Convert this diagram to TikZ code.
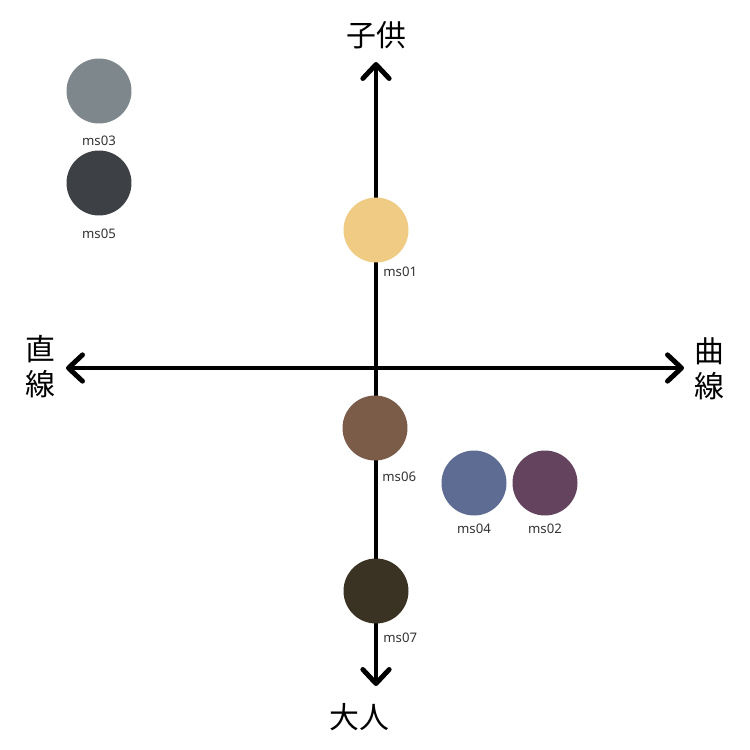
\documentclass[tikz,border=0pt]{standalone}
\usepackage{fontspec}
\setmainfont{Noto Sans}
\newfontfamily\jpfont{Noto Sans CJK JP}
\usetikzlibrary{arrows.meta,positioning}

\definecolor{msA}{HTML}{EFCB84}
\definecolor{msB}{HTML}{64435E}
\definecolor{msC}{HTML}{7E878B}
\definecolor{msD}{HTML}{5E6C94}
\definecolor{msE}{HTML}{3D4045}
\definecolor{msF}{HTML}{7B5C48}
\definecolor{msG}{HTML}{3A3222}

\begin{document}
\begin{tikzpicture}[
                x=0.02cm,y=-0.02cm,
                every node/.append style={inner sep=0pt},
                swatch/.style={circle,minimum size=1.3cm},
                tag/.style={font=\fontsize{7.5}{9}\selectfont,text=black!80},
                axis/.style={line width=2.8pt,{Straight Barb[round,length=8pt,width=15pt]}-{Straight Barb[round,length=8pt,width=15pt]}},
                pole/.style={font=\jpfont\fontsize{17}{20}\selectfont,align=center}
            ]
                \useasboundingbox (0,0) rectangle (750,750);
                \coordinate (top)    at (376,62);
                \coordinate (bottom) at (376,686);
                \coordinate (left)   at (66,368);
                \coordinate (right)  at (684,368);
                \draw[axis] (left) -- (right);
                \draw[axis] (bottom) -- (top);
                \node (kodomo) [pole] at (376,35)  {子供};
                \node (otona)  [pole] at (359,717) {大人};
                \node (choku)  [pole] at (40,367)  {直\\線};
                \node (kyoku)  [pole] at (709,369) {曲\\線};
                \node (ms03) [swatch,fill=msC,label={[tag,label distance=6.5pt]below:ms03}] at (99,91)  {};
                \node (ms05) [swatch,fill=msE,label={[tag,label distance=7pt]below:ms05}]   at (99,183) {};
                \node (ms01) [swatch,fill=msA,label={[tag,anchor=north west,xshift=4pt,label distance=2pt]below:ms01}] at (376,230) {};
                \node (ms06) [swatch,fill=msF,label={[tag,anchor=north west,xshift=4pt,label distance=6pt]below:ms06}] at (375,428) {};
                \node (ms07) [swatch,fill=msG,label={[tag,anchor=north west,xshift=4pt,label distance=5pt]below:ms07}] at (376,591) {};
                \node (ms04) [swatch,fill=msD,label={[tag,label distance=4.5pt]below:ms04}] at (474,483) {};
                \node (ms02) [swatch,fill=msB,label={[tag,label distance=4.5pt]below:ms02}] at (545,483) {};
            \end{tikzpicture}
\end{document}
